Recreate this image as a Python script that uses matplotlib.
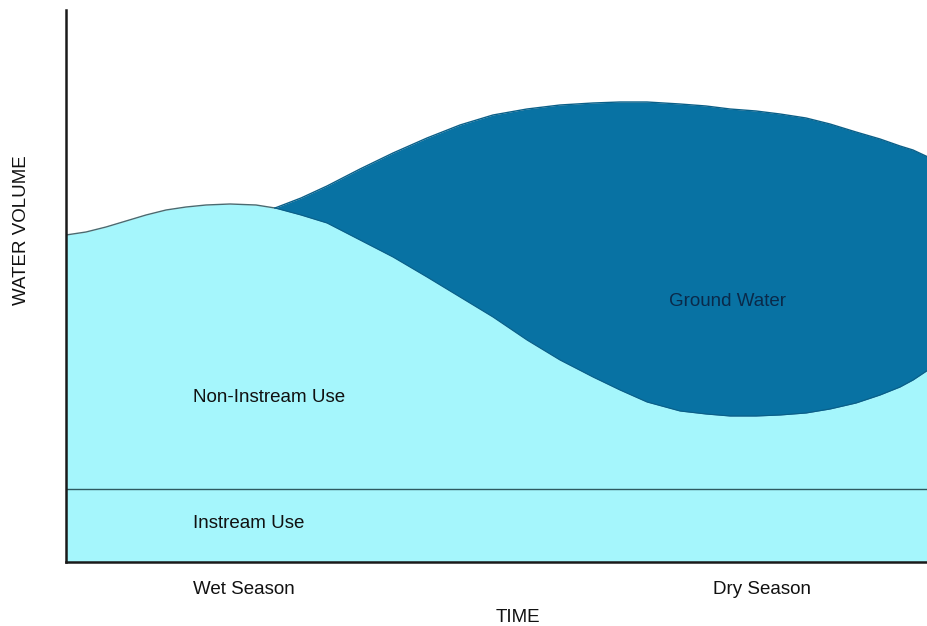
import matplotlib.pyplot as plt
import numpy as np

plt.rcParams['font.family'] = ['Liberation Sans', 'DejaVu Sans']

# 横轴：时间（像素刻度，从左轴起算）
time = [0, 20, 40, 60, 80, 100, 120, 140, 164, 190, 209, 235, 261, 294, 327,
        361, 394, 427, 461, 494, 527, 554, 581, 614, 640, 664, 690, 714, 740,
        764, 790, 814, 834, 847, 862]
# 非河道内用水上边界
non_instream = [327, 330, 335, 341, 347, 352, 355, 357, 358, 357, 354, 347,
                339, 322, 305, 285, 265, 245, 222, 202, 185, 172, 160, 151,
                148, 146, 146, 147, 149, 153, 159, 167, 175, 182, 192]
# 地下水上边界（从 time[10] 开始）
gw_start = 10
ground_water = [354, 364, 376, 393, 409, 424, 437, 447, 453, 457, 459, 460,
                460, 458, 456, 453, 451, 448, 444, 438, 430, 423, 416, 412, 405]
instream_level = 73

fig = plt.figure(figsize=(9.28, 6.26), dpi=100)
ax = fig.add_axes([66/928, 64/626, 862/928, 552/626])

light = '#a5f6fc'
dark = '#0872a3'

ax.fill_between(time, 0, non_instream, color=light, lw=0)
ax.fill_between(time[gw_start:], non_instream[gw_start:], ground_water,
                color=dark, lw=0)
ax.plot(time[:gw_start + 1], non_instream[:gw_start + 1], color='#4a6a70', lw=1)
ax.plot(time[gw_start:], ground_water, color='#0a5f88', lw=1)
ax.plot(time[gw_start:], non_instream[gw_start:], color='#0a5f88', lw=0.8)
ax.axhline(instream_level, color='#2e5a60', lw=1)

ax.set_xlim(0, 862)
ax.set_ylim(0, 552)
ax.set_xticks([])
ax.set_yticks([])
for s in ['top', 'right']:
    ax.spines[s].set_visible(False)
for s in ['left', 'bottom']:
    ax.spines[s].set_linewidth(1.8)
    ax.spines[s].set_color('#1a1a1a')

fs = 13.5
ax.text(127, 165, 'Non-Instream Use', fontsize=fs, va='center', color='#111')
ax.text(127, 38, 'Instream Use', fontsize=fs, va='center', color='#111')
ax.text(603, 260, 'Ground Water', fontsize=fs, va='center', color='#0a2a4a')

fig.text(193/928, 1 - 589/626, 'Wet Season', fontsize=fs, va='center', color='#111')
fig.text(713/928, 1 - 589/626, 'Dry Season', fontsize=fs, va='center', color='#111')
fig.text(518/928, 1 - 617/626, 'TIME', fontsize=fs, va='center', ha='center', color='#111')
fig.text(22/928, 1 - 230/626, 'WATER VOLUME', fontsize=fs, va='center', ha='center',
         rotation=90, color='#111')

fig.savefig('out.png', dpi=100)
